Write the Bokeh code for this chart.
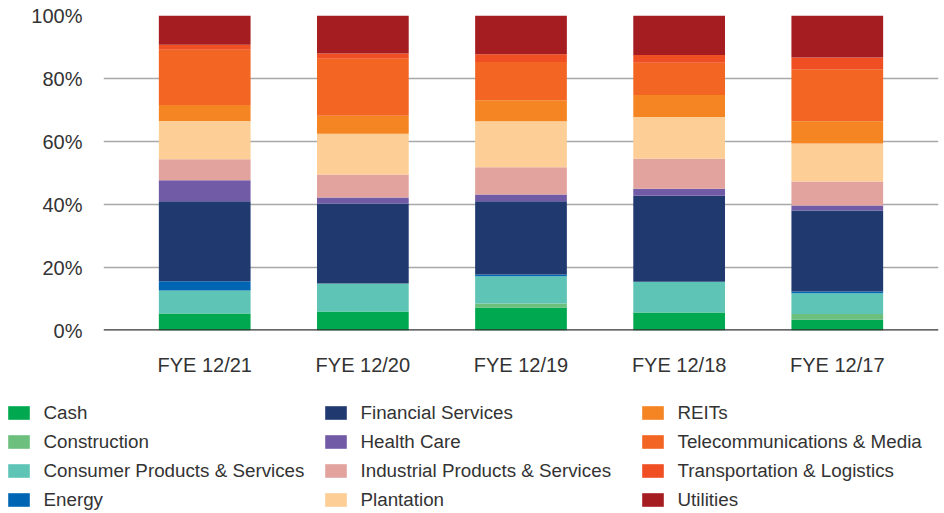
from bokeh.plotting import figure
from bokeh.layouts import column
from bokeh.models import (ColumnDataSource, FactorRange, Range1d, Span, Legend, LegendItem,
                          FixedTicker, PrintfTickFormatter)
from bokeh.embed import file_html
from bokeh.resources import INLINE

categories = ["FYE 12/21", "FYE 12/20", "FYE 12/19", "FYE 12/18", "FYE 12/17"]

cash = [5.4, 6.0, 7.3, 5.7, 3.5]
construction = [0.0, 0.0, 1.3, 0.0, 1.7]
consumer = [7.3, 8.9, 8.6, 9.8, 6.6]
energy = [2.9, 0.0, 0.6, 0.0, 0.6]
financial = [25.4, 25.4, 23.2, 27.3, 25.7]
health = [6.7, 1.9, 2.2, 2.2, 1.6]
industrial = [6.7, 7.3, 8.6, 9.5, 7.6]
plantation = [12.1, 13.0, 14.6, 13.3, 12.1]
reits = [5.1, 5.7, 6.7, 7.0, 7.0]
telecom = [17.5, 18.1, 12.1, 10.2, 16.5]
transport = [1.6, 1.6, 2.5, 2.5, 3.8]
utilities = [9.3, 12.1, 12.3, 12.5, 13.3]

sector_names = ["Cash", "Construction", "Consumer Products & Services", "Energy",
                "Financial Services", "Health Care", "Industrial Products & Services", "Plantation",
                "REITs", "Telecommunications & Media", "Transportation & Logistics", "Utilities"]
sector_values = [cash, construction, consumer, energy, financial, health, industrial,
                 plantation, reits, telecom, transport, utilities]
colors = ["#00A94F", "#6DBF7E", "#5EC4B6", "#0066B3", "#203A70", "#725BA6",
          "#E2A39E", "#FDCE95", "#F58422", "#F26522", "#F04E23", "#A51C21"]

y_ticks = [0, 20, 40, 60, 80, 100]

keys = ["s%d" % i for i in range(len(sector_names))]
data = {"cat": categories}
for k, v in zip(keys, sector_values):
    data[k] = v
source = ColumnDataSource(data)

FONT = "Liberation Sans"
TXT = "#333333"

# ---- main chart ----
p = figure(x_range=FactorRange(factors=categories, range_padding=0.056),
           y_range=Range1d(0, 100),
           width=944, height=385, output_backend="svg", toolbar_location=None,
           min_border_left=103, min_border_right=6, min_border_top=15, min_border_bottom=55)
p.frame_align = False

renderers = p.vbar_stack(keys, x="cat", width=0.58, color=colors, line_color=None, source=source)

p.outline_line_color = None
p.xgrid.grid_line_color = None
p.ygrid.grid_line_color = "#a8a8a8"
p.ygrid.grid_line_width = 1.3
p.yaxis.ticker = FixedTicker(ticks=y_ticks)
p.yaxis.formatter = PrintfTickFormatter(format="%d%%")
for ax in (p.xaxis[0], p.yaxis[0]):
    ax.axis_line_color = None
    ax.major_tick_line_color = None
    ax.minor_tick_line_color = None
    ax.major_tick_out = 0
    ax.major_tick_in = 0
    ax.major_label_text_font = FONT
    ax.major_label_text_font_size = "20px"
    ax.major_label_text_color = TXT
p.yaxis.major_label_standoff = 21
p.xaxis.major_label_standoff = 23

p.add_layout(Span(location=0, dimension="width", line_color="#333333", line_width=2.5))

# ---- legend panel ----
lg = figure(width=944, height=128, output_backend="svg", toolbar_location=None,
            x_range=Range1d(0, 1), y_range=Range1d(0, 1),
            x_axis_type=None, y_axis_type=None,
            min_border_left=0, min_border_right=0, min_border_top=0, min_border_bottom=0)
lg.frame_align = False
lg.outline_line_color = None
lg.grid.visible = False

# zero-size placeholder glyphs that only carry each sector's colour into the legend
swatch_renderers = [lg.vbar(x=[0], top=[0], bottom=[0], width=0, fill_color=c, line_color=None)
                    for c in colors]
items = [LegendItem(label=n, renderers=[r]) for n, r in zip(sector_names, swatch_renderers)]
legend = Legend(items=items, orientation="vertical", nrows=4,
                location=(4.5, 2.25),
                padding=0, margin=0, border_line_color=None, background_fill_alpha=0,
                glyph_width=27, glyph_height=17, label_standoff=12, label_width=271,
                label_height=22, spacing=7,
                label_text_font=FONT, label_text_font_size="18.8px", label_text_color=TXT)
lg.add_layout(legend, "center")

layout = column(p, lg, spacing=0)
open("out.html", "w").write(file_html(layout, INLINE))
